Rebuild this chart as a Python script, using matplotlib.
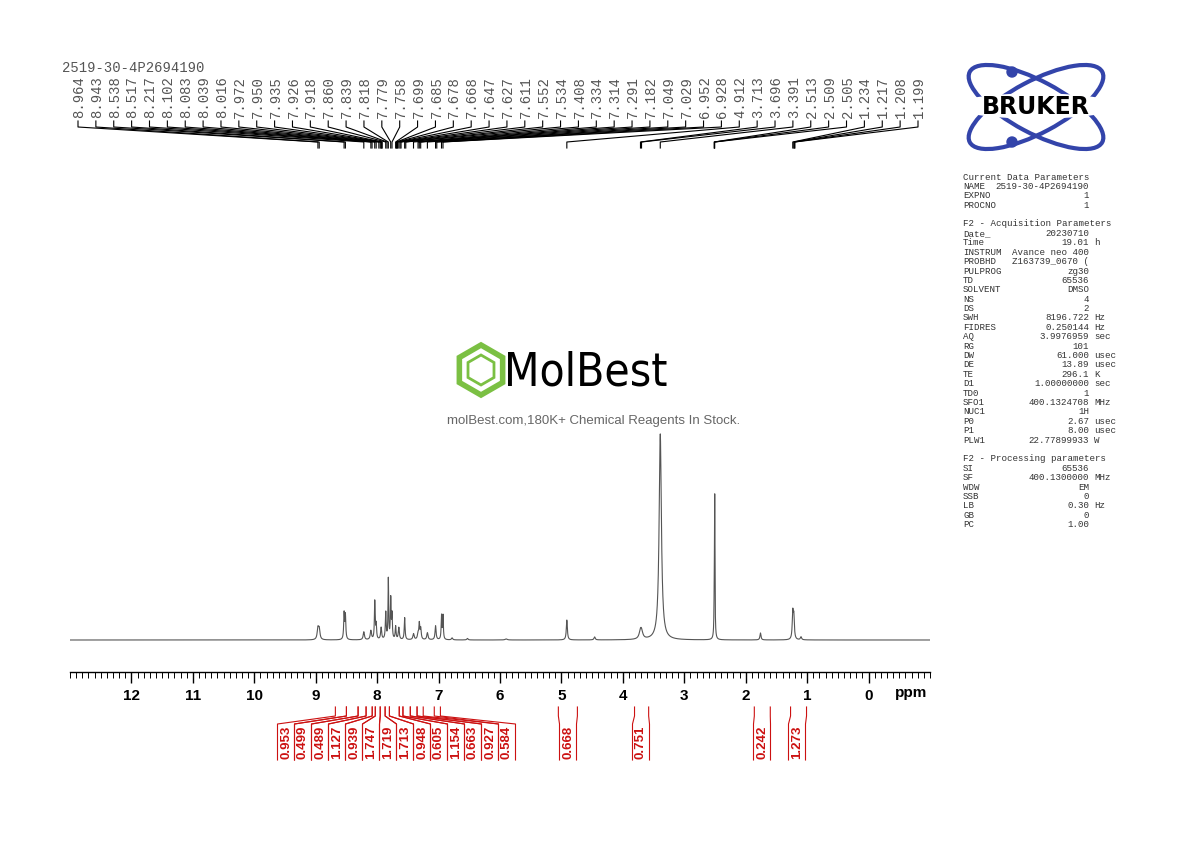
import numpy as np
import matplotlib
matplotlib.use("Agg")
import matplotlib.pyplot as plt
from matplotlib.patches import Ellipse, Circle, RegularPolygon

# ---------------- data ----------------
title = "2519-30-4P2694190"
peak_labels = [8.964, 8.943, 8.538, 8.517, 8.217, 8.102, 8.083, 8.039, 8.016, 7.972,
               7.950, 7.935, 7.926, 7.918, 7.860, 7.839, 7.818, 7.779, 7.758, 7.699,
               7.685, 7.678, 7.668, 7.647, 7.627, 7.611, 7.552, 7.534, 7.408, 7.334,
               7.314, 7.291, 7.182, 7.049, 7.029, 6.952, 6.928, 4.912, 3.713, 3.696,
               3.391, 2.513, 2.509, 2.505, 1.234, 1.217, 1.208, 1.199]

spec_ppm = [8.964, 8.943, 8.538, 8.517, 8.217, 8.102, 8.039, 8.016, 7.935, 7.860,
            7.818, 7.779, 7.758, 7.699, 7.647, 7.552, 7.408, 7.334, 7.314, 7.291,
            7.182, 7.049, 6.952, 6.928, 6.78, 6.53, 5.90, 4.912, 4.46, 3.713,
            3.696, 3.391, 2.513, 2.505, 1.76, 1.234, 1.217, 1.10]
spec_height = [11, 10, 26, 24, 8, 9, 38, 15, 12, 27,
               60, 40, 24, 13, 12, 22, 6, 6, 15, 11,
               7, 14, 24, 24, 2, 1.5, 1, 20, 3, 7,
               6, 206, 20, 142, 7, 26, 22, 3]
spec_width = [0.014, 0.014, 0.008, 0.008, 0.012, 0.012, 0.007, 0.008, 0.01, 0.008,
              0.006, 0.007, 0.007, 0.008, 0.01, 0.008, 0.012, 0.012, 0.008, 0.01,
              0.012, 0.01, 0.007, 0.007, 0.012, 0.012, 0.02, 0.01, 0.012, 0.025,
              0.025, 0.022, 0.005, 0.005, 0.01, 0.01, 0.01, 0.012]

integral_values = ["0.953", "0.499", "0.489", "1.127", "0.939", "1.747", "1.719",
                   "1.713", "0.948", "0.605", "1.154", "0.663", "0.927", "0.584",
                   "0.668", "0.751", "0.242", "1.273"]
integral_ranges = [(8.68, 8.50), (8.50, 8.31), (8.31, 8.18), (8.18, 8.08), (8.08, 8.03),
                   (8.03, 7.95), (7.95, 7.87), (7.87, 7.80), (7.80, 7.64), (7.64, 7.58),
                   (7.58, 7.46), (7.46, 7.35), (7.35, 7.25), (7.07, 6.97),
                   (5.05, 4.74), (3.81, 3.58), (1.86, 1.60), (1.27, 1.01)]
integral_label_x = [286, 303, 320, 337, 354, 371, 388, 405, 422, 439, 456, 473, 490, 507,
                    568, 641, 762, 797]

params = [
    ("Current Data Parameters", None, None), ("NAME", "2519-30-4P2694190", ""),
    ("EXPNO", "1", ""), ("PROCNO", "1", ""), ("", None, None),
    ("F2 - Acquisition Parameters", None, None),
    ("Date_", "20230710", ""), ("Time", "19.01", "h"), ("INSTRUM", "Avance neo 400", ""),
    ("PROBHD", "Z163739_0670 (", ""), ("PULPROG", "zg30", ""), ("TD", "65536", ""),
    ("SOLVENT", "DMSO", ""), ("NS", "4", ""), ("DS", "2", ""),
    ("SWH", "8196.722", "Hz"), ("FIDRES", "0.250144", "Hz"), ("AQ", "3.9976959", "sec"),
    ("RG", "101", ""), ("DW", "61.000", "usec"), ("DE", "13.89", "usec"),
    ("TE", "296.1", "K"), ("D1", "1.00000000", "sec"), ("TD0", "1", ""),
    ("SFO1", "400.1324708", "MHz"), ("NUC1", "1H", ""), ("P0", "2.67", "usec"),
    ("P1", "8.00", "usec"), ("PLW1", "22.77899933", "W"), ("", None, None),
    ("F2 - Processing parameters", None, None), ("SI", "65536", ""),
    ("SF", "400.1300000", "MHz"), ("WDW", "EM", ""), ("SSB", "0", ""),
    ("LB", "0.30", "Hz"), ("GB", "0", ""), ("PC", "1.00", ""),
]

# ---------------- figure ----------------
W, H = 1190, 842
fig = plt.figure(figsize=(W / 100, H / 100), dpi=100)
X0, X1 = 70, 930
YTOP, YBOT = 150, 672
ax = fig.add_axes([X0 / W, 1 - YBOT / H, (X1 - X0) / W, (YBOT - YTOP) / H])
ax.set_xlim(13, -1)
ax.set_ylim(-32, YBOT - YTOP - 32)
for s in ["top", "left", "right"]:
    ax.spines[s].set_visible(False)
ax.spines["bottom"].set_linewidth(1.0)
ax.set_yticks([])
ax.set_xticks(np.arange(0, 13, 1))
ax.set_xticklabels([str(i) for i in range(0, 13)], fontsize=11, fontweight="bold",
                   family="Liberation Sans")
ax.set_xticks(np.arange(-1, 13.01, 0.1), minor=True)
ax.tick_params(axis="x", which="major", direction="out", length=8, width=1, pad=4)
ax.tick_params(axis="x", which="minor", direction="out", length=4, width=0.7)

x = np.linspace(13, -1, 10000)
y = np.zeros_like(x)
for p, h, w in zip(spec_ppm, spec_height, spec_width):
    y += h * w**2 / ((x - p) ** 2 + w**2)
ax.plot(x, y, color="#555555", lw=0.8)

# overlay in pixel coordinates
ov = fig.add_axes([0, 0, 1, 1])
ov.set_xlim(0, W)
ov.set_ylim(H, 0)
ov.axis("off")
ov.patch.set_alpha(0)


def ppm2px(p):
    return X0 + (13 - p) / 14 * (X1 - X0)


ov.text(ppm2px(-0.7), 693, "ppm", fontsize=11, fontweight="bold", ha="center",
        va="center", family="Liberation Sans")

mono = "Liberation Mono"
ov.text(62, 68, title, family=mono, fontsize=10, color="#555555", va="center")

n = len(peak_labels)
for i, p in enumerate(peak_labels):
    lx = 78 + i * (918 - 78) / (n - 1)
    ov.text(lx + 1, 118, f"{p:.3f}", rotation=90, family=mono, fontsize=10,
            color="#555555", ha="center", va="bottom")
    px = ppm2px(p)
    ov.plot([lx, lx, px, px], [121, 127, 142, 148], color="black", lw=0.8)

red = "#cc1111"
for (a, b), lab, lx in zip(integral_ranges, integral_values, integral_label_x):
    xa, xb = ppm2px(a), ppm2px(b)
    for xt, xl in ((xa, lx - 8.5), (xb, lx + 8.5)):
        ov.plot([xt, xt, xl, xl], [707, 716, 724, 760], color=red, lw=0.8)
    ov.text(lx, 742, lab, rotation=90, color=red, fontsize=9.5, fontweight="bold",
            ha="center", va="center", family="Liberation Sans")

# parameter panel
yy = 177
fs = 6.6
for key, val, unit in params:
    ov.text(963, yy, key, family=mono, fontsize=fs, color="#333333", va="center")
    if val is not None:
        ov.text(1089, yy, val, family=mono, fontsize=fs, color="#333333", va="center",
                ha="right")
        if unit:
            ov.text(1094, yy, unit, family=mono, fontsize=fs, color="#333333",
                    va="center")
    yy += 9.4

# Bruker logo
blue = "#3344aa"
for ang in (28, -28):
    ov.add_patch(Ellipse((1036, 107), 150, 52, angle=ang, fill=False, ec=blue, lw=3))
ov.add_patch(Circle((1012, 72), 5, color=blue))
ov.add_patch(Circle((1012, 142), 5, color=blue))
ov.add_patch(Ellipse((1036, 106), 160, 24, color="white"))
ov.text(1036, 107, "BRUKER", fontsize=17, fontweight="heavy", ha="center",
        va="center", family="DejaVu Sans", color="black")

# MolBest logo
green = "#7bc043"
ov.add_patch(RegularPolygon((481, 370), 6, radius=25, orientation=np.pi / 6 + np.pi / 2,
                            fill=False, ec=green, lw=4))
ov.add_patch(RegularPolygon((481, 370), 6, radius=15, orientation=np.pi / 6 + np.pi / 2,
                            fill=False, ec=green, lw=2))
ov.text(586, 373, "MolBest", fontsize=33, ha="center", va="center", color="black",
        family="DejaVu Sans", fontstretch="condensed")
ov.text(594, 421, "molBest.com,180K+ Chemical Reagents In Stock.", fontsize=9.5,
        ha="center", va="center", color="#666666", family="Liberation Sans")

fig.savefig("out.png", dpi=100)
